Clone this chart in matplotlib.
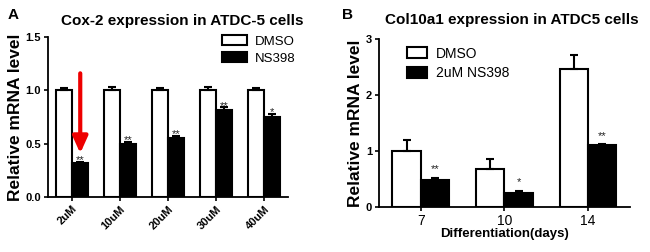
import numpy as np
import matplotlib
matplotlib.use('Agg')
import matplotlib.pyplot as plt

plt.rcParams['font.family'] = ['Liberation Sans', 'DejaVu Sans']

# panel A data
doses = ['2uM', '10uM', '20uM', '30uM', '40uM']
a_dmso = [1.0, 1.0, 1.0, 1.0, 1.0]
a_dmso_err = [0.02, 0.03, 0.02, 0.03, 0.02]
a_ns = [0.32, 0.50, 0.55, 0.82, 0.75]
a_ns_err = [0.01, 0.02, 0.02, 0.02, 0.03]
a_stars = ['**', '**', '**', '**', '*']

# panel B data
days = ['7', '10', '14']
b_dmso = [1.0, 0.67, 2.46]
b_dmso_err = [0.20, 0.19, 0.26]
b_ns = [0.48, 0.24, 1.11]
b_ns_err = [0.04, 0.05, 0.01]
b_stars = ['**', '*', '**']

fig = plt.figure(figsize=(6.5, 2.52), dpi=100)
axA = fig.add_axes([0.074, 0.218, 0.369, 0.635])
axB = fig.add_axes([0.583, 0.179, 0.386, 0.666])

w = 0.34


def draw(ax, ctrl, ctrl_err, trt, trt_err, stars, lab_ctrl, lab_trt, star_off):
    x = np.arange(len(ctrl))
    ax.bar(x - w / 2, ctrl, w, color='white', edgecolor='black', linewidth=1.5,
           yerr=[np.zeros(len(ctrl)), ctrl_err], capsize=3,
           error_kw=dict(elinewidth=1.5, capthick=1.5), label=lab_ctrl)
    ax.bar(x + w / 2, trt, w, color='black', edgecolor='black', linewidth=1.5,
           yerr=[np.zeros(len(trt)), trt_err], capsize=3,
           error_kw=dict(elinewidth=1.5, capthick=1.5), label=lab_trt)
    for i in range(len(trt)):
        ax.text(x[i] + w / 2, trt[i] + trt_err[i] + star_off, stars[i],
                ha='center', va='bottom', fontsize=8, color='#222222')
    for s in ['top', 'right']:
        ax.spines[s].set_visible(False)
    for s in ['left', 'bottom']:
        ax.spines[s].set_linewidth(1.3)
    ax.tick_params(width=1.2, length=3, direction='out', pad=2)
    ax.set_xticks(x)
    ax.set_xlim(-0.5, len(ctrl) - 0.5)
    ax.set_ylabel('Relative mRNA level', fontsize=12.5, fontweight='bold', labelpad=2)
    return x


draw(axA, a_dmso, a_dmso_err, a_ns, a_ns_err, a_stars, 'DMSO', 'NS398', -0.03)
axA.set_ylim(0, 1.5)
axA.set_yticks([0, 0.5, 1.0, 1.5])
axA.set_yticklabels(['0.0', '0.5', '1.0', '1.5'], fontsize=8, fontweight='bold')
axA.set_xticklabels(doses, rotation=45, ha='right', rotation_mode='anchor',
                    fontsize=8, fontweight='bold')
axA.legend(loc='upper right', bbox_to_anchor=(1.08, 1.09), frameon=False, fontsize=9.5,
           handlelength=1.9, handleheight=0.9, handletextpad=0.6, labelspacing=0.3)
axA.set_title('Cox-2 expression in ATDC-5 cells', fontsize=11, fontweight='bold',
              x=0.56, pad=9)
fig.text(0.012, 0.925, 'A', fontsize=11, fontweight='bold')

# red arrow on 2uM
axA.annotate('', xy=(w / 2, 0.41), xytext=(w / 2, 1.16),
             arrowprops=dict(arrowstyle='-|>,head_width=0.45,head_length=1.0',
                             color='#ee0000', lw=3, shrinkA=0, shrinkB=0))

draw(axB, b_dmso, b_dmso_err, b_ns, b_ns_err, b_stars, 'DMSO', '2uM NS398', 0.06)
axB.set_ylim(0, 3)
axB.set_yticks([0, 1, 2, 3])
axB.set_yticklabels(['0', '1', '2', '3'], fontsize=8, fontweight='bold')
axB.set_xticklabels(days, fontsize=10)
axB.set_xlabel('Differentiation(days)', fontsize=9.5, fontweight='bold', labelpad=0)
axB.legend(loc='upper left', bbox_to_anchor=(0.06, 1.03), frameon=False, fontsize=10,
           handlelength=1.5, handleheight=0.9, handletextpad=0.6, labelspacing=0.4)
axB.set_title('Col10a1 expression in ATDC5 cells', fontsize=11, fontweight='bold',
              x=0.53, pad=11)
fig.text(0.526, 0.925, 'B', fontsize=11, fontweight='bold')

fig.savefig('out.png', dpi=100)
